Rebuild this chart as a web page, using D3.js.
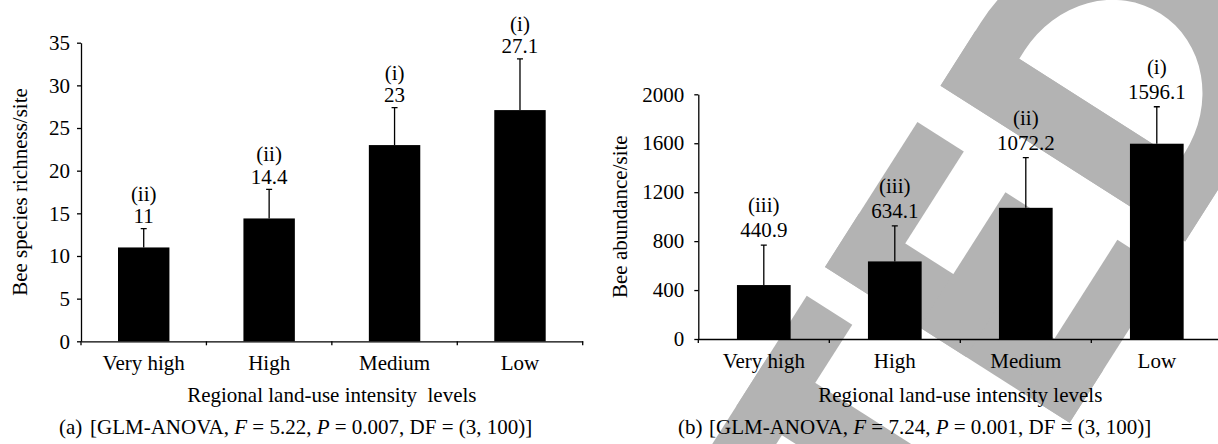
<!DOCTYPE html>
<html>
<head>
<meta charset="utf-8">
<script src="https://cdn.jsdelivr.net/npm/d3@7"></script>
<style>
  body { margin: 0; background: #fff; }
  svg text { font-family: "Liberation Serif", "Times New Roman", serif; font-size: 21px; fill: #000; }
</style>
</head>
<body>
<svg width="1218" height="444"></svg>
<script>
var categories = ["Very high", "High", "Medium", "Low"];

// (a) bee species richness per site
var richness = [11, 14.4, 23, 27.1];
var richnessErr = [2.2, 3.4, 4.4, 6.0];
var richnessGroups = ["(ii)", "(ii)", "(i)", "(i)"];
var richnessTicks = [0, 5, 10, 15, 20, 25, 30, 35];

// (b) bee abundance per site
var abundance = [440.9, 634.1, 1072.2, 1596.1];
var abundanceErr = [327, 290, 410, 302];
var abundanceGroups = ["(iii)", "(iii)", "(ii)", "(i)"];
var abundanceTicks = [0, 400, 800, 1200, 1600, 2000];

var svg = d3.select("svg");

// grey stamp letters behind panel (b), drawn in a rotated letter frame
var stamp = svg.append("g")
	.attr("transform", "translate(825,267) rotate(-57.5)")
	.attr("fill", "#b3b3b3");
var stampRects = [
	[-234, 0, 200, 54], [-165, 0, 62, 290],            // T
	[0, 0, 63, 290], [0, 0, 172, 55], [0, 112, 160, 55], [0, 232, 180, 58], // E
	[215, 0, 65, 290]                                  // D stem
];
stamp.selectAll("rect").data(stampRects).enter().append("rect")
	.attr("x", function(d) { return d[0]; })
	.attr("y", function(d) { return d[1]; })
	.attr("width", function(d) { return d[2]; })
	.attr("height", function(d) { return d[3]; });
stamp.append("path")
	.attr("fill-rule", "evenodd")
	.attr("d", "M215,0 H290 A164,145 0 0 1 290,290 H215 Z M280,52 H290 A104,95 0 0 1 290,242 H280 Z");

function drawPanel(cfg) {
	var g = svg.append("g");

	var x = d3.scaleBand().domain(categories).range([cfg.left, cfg.right]).padding(0);
	var y = d3.scaleLinear().domain([0, cfg.max]).range([cfg.bottom, cfg.top]);
	var barW = x.bandwidth() * 0.41;

	g.selectAll(".bar").data(cfg.values).enter().append("rect")
		.attr("class", "bar")
		.attr("x", function(d, i) { return x(categories[i]) + (x.bandwidth() - barW) / 2; })
		.attr("y", function(d) { return y(d); })
		.attr("width", barW)
		.attr("height", function(d) { return cfg.bottom - y(d); })
		.attr("fill", "#000");

	// upper error bars
	var cx = function(i) { return x(categories[i]) + x.bandwidth() / 2; };
	g.selectAll(".err").data(cfg.values).enter().append("path")
		.attr("class", "err")
		.attr("d", function(d, i) {
			var top = y(d + cfg.errors[i]);
			return "M" + cx(i) + "," + y(d) + "V" + top + "M" + (cx(i) - 3) + "," + top + "H" + (cx(i) + 3);
		})
		.attr("stroke", "#000")
		.attr("stroke-width", 1.3)
		.attr("fill", "none");

	// value and group labels
	g.selectAll(".val").data(cfg.values).enter().append("text")
		.attr("x", function(d, i) { return cx(i); })
		.attr("y", function(d, i) { return y(d + cfg.errors[i]) - cfg.gap; })
		.attr("text-anchor", "middle")
		.text(function(d) { return d; });
	g.selectAll(".grp").data(cfg.groups).enter().append("text")
		.attr("x", function(d, i) { return cx(i); })
		.attr("y", function(d, i) { return y(cfg.values[i] + cfg.errors[i]) - cfg.gap - cfg.lineH; })
		.attr("text-anchor", "middle")
		.text(function(d) { return d; });

	// y axis
	g.append("g")
		.attr("transform", "translate(" + cfg.left + ",0)")
		.call(d3.axisLeft(y).tickValues(cfg.ticks).tickFormat(d3.format("d"))
			.tickSize(4).tickSizeOuter(0).tickPadding(cfg.tickPad));

	// x axis: labels centred, ticks on the category boundaries
	var xAxis = g.append("g")
		.attr("transform", "translate(0," + cfg.bottom + ")")
		.call(d3.axisBottom(x).tickSize(0).tickSizeOuter(0).tickPadding(cfg.labelPad));
	xAxis.selectAll(".bound").data(d3.range(categories.length + 1)).enter().append("line")
		.attr("class", "bound")
		.attr("x1", function(i) { return cfg.left + i * x.step(); })
		.attr("x2", function(i) { return cfg.left + i * x.step(); })
		.attr("y1", 0)
		.attr("y2", 4)
		.attr("stroke", "#000");

	g.selectAll(".domain, .tick line, .bound").attr("stroke-width", 1.3);

	g.append("text")
		.attr("transform", "translate(" + cfg.yTitleX + "," + (cfg.top + cfg.bottom) / 2 + ") rotate(-90)")
		.attr("text-anchor", "middle")
		.text(cfg.yTitle);

	g.append("text")
		.attr("x", (cfg.left + cfg.right) / 2)
		.attr("y", 401.7)
		.attr("text-anchor", "middle")
		.style("white-space", "pre")
		.text(cfg.xTitle);

	g.append("text")
		.attr("x", cfg.capX)
		.attr("y", 434)
		.text(cfg.letter);
	var cap = g.append("text")
		.attr("x", cfg.capX + 31)
		.attr("y", 434);
	cap.append("tspan").text("[GLM-ANOVA, ");
	cap.append("tspan").style("font-style", "italic").text("F");
	cap.append("tspan").text(" = " + cfg.stats[0] + ", ");
	cap.append("tspan").style("font-style", "italic").text("P");
	cap.append("tspan").text(" = " + cfg.stats[1] + ", DF = (3, 100)]");
}

drawPanel({
	left: 81, right: 582.7, top: 42.7, bottom: 341.3, max: 35,
	values: richness, errors: richnessErr, groups: richnessGroups, ticks: richnessTicks,
	tickPad: 7, labelPad: 14, gap: 5.5, lineH: 22.5,
	yTitle: "Bee species richness/site", yTitleX: 27,
	xTitle: "Regional land-use intensity  levels",
	letter: "(a)", capX: 59, stats: ["5.22", "0.007"]
});

drawPanel({
	left: 698.3, right: 1222.3, top: 94.3, bottom: 339, max: 2000,
	values: abundance, errors: abundanceErr, groups: abundanceGroups, ticks: abundanceTicks,
	tickPad: 10, labelPad: 14, gap: 8, lineH: 25,
	yTitle: "Bee abundance/site", yTitleX: 627,
	xTitle: "Regional land-use intensity levels",
	letter: "(b)", capX: 678, stats: ["7.24", "0.001"]
});
</script>
</body>
</html>
